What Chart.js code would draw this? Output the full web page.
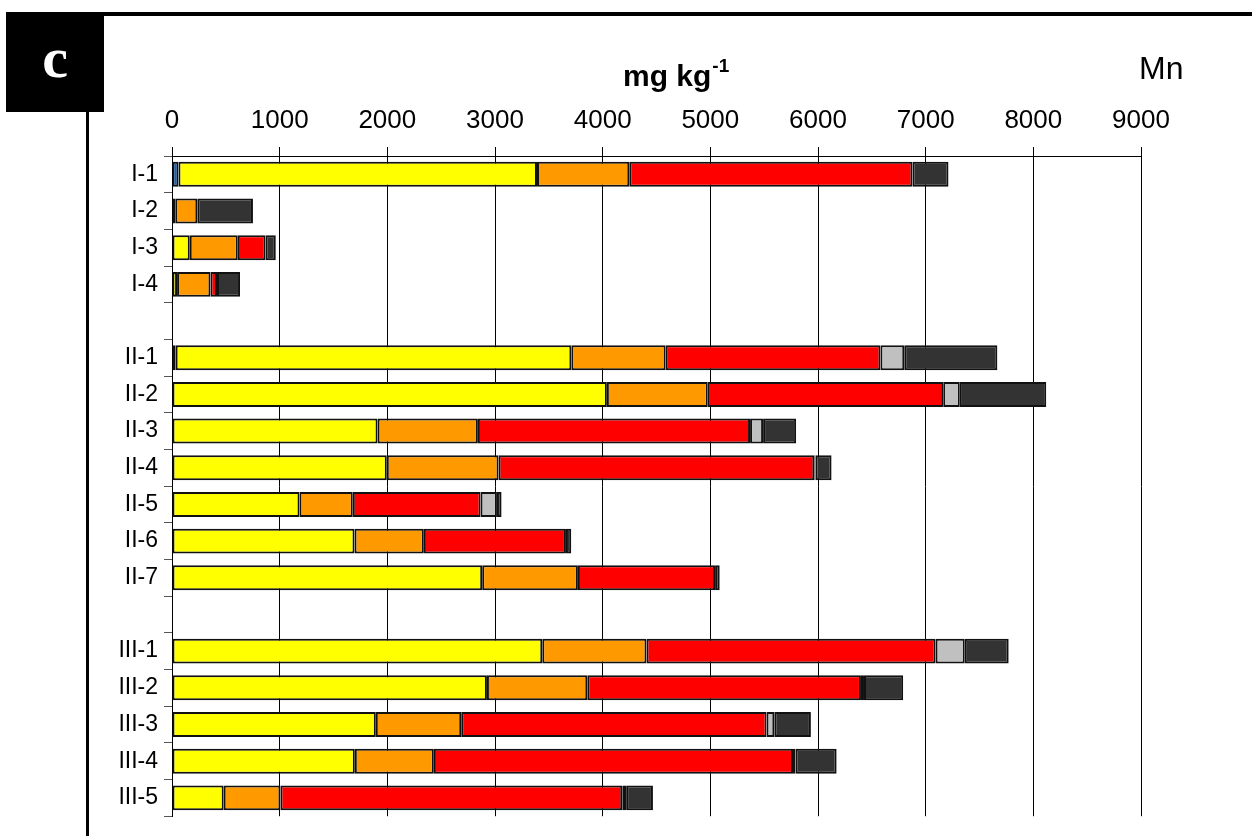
<!DOCTYPE html>
<html>
<head>
<meta charset="utf-8">
<script src="https://cdn.jsdelivr.net/npm/chart.js@4"></script>
<style>
  body { margin: 0; background: #fff; }
  #wrap { position: relative; width: 1252px; height: 836px; overflow: hidden; }
  #chart { position: absolute; left: 0; top: 0; }
  .frame { position: absolute; background: #000; }
  #panel { left: 6px; top: 12px; width: 98px; height: 100px; color: #fff;
           font: bold 58px "Liberation Serif", "Times New Roman", "DejaVu Serif", serif; text-align: center; line-height: 92px; }
  #unit { position: absolute; left: 623px; top: 54px; font: bold 30px "Liberation Sans", Arial, sans-serif; line-height: 30px; }
  #unit sup { font-size: 19px; font-weight: bold; position: relative; top: -3px; margin-left: 1px; }
  #elem { position: absolute; left: 1139px; top: 52px; font: 32px "Liberation Sans", Arial, sans-serif; line-height: 32px; }
</style>
</head>
<body>
<div id="wrap">
  <canvas id="chart" width="1252" height="836"></canvas>
  <div class="frame" style="left:6px; top:12px; width:1246px; height:4px;"></div>
  <div class="frame" id="panel">c</div>
  <div class="frame" style="left:86px; top:112px; width:3px; height:724px;"></div>
  <div id="unit">mg kg<sup>-1</sup></div>
  <div id="elem">Mn</div>
</div>
<script>
// sample labels, blank entries are the gaps between groups
const categories = ['I-1', 'I-2', 'I-3', 'I-4', '',
    'II-1', 'II-2', 'II-3', 'II-4', 'II-5', 'II-6', 'II-7', '',
    'III-1', 'III-2', 'III-3', 'III-4', 'III-5'];

// fractions, mg/kg
const fraction1 = [60, null, null, null, null, 34, null, null, null, null, null, null, null, null, null, null, null, null];
const fraction2 = [3330, 30, 165, 47, null, 3675, 4039, 1909, 1995, 1184, 1695, 2881, null, 3439, 2925, 1893, 1698, 480];
const fraction3 = [857, 205, 446, 310, null, 876, 937, 932, 1038, 495, 644, 889, null, 968, 932, 793, 734, 527];
const fraction4 = [2630, null, 257, 61, null, 1995, 2187, 2528, 2933, 1187, 1320, 1274, null, 2685, 2542, 2836, 3336, 3175];
const fraction5 = [null, null, null, null, null, 221, 154, 121, 10, 152, null, null, null, 271, 28, 72, 23, 36];
const fraction6 = [335, 517, 96, 214, null, 865, 803, 307, 150, 43, 49, 43, null, 408, 364, 340, 382, 249];

const xTicks = [0, 1000, 2000, 3000, 4000, 5000, 6000, 7000, 8000, 9000];

const colors = ['#0a64c8', '#ffff00', '#ff9900', '#ff0000', '#c0c0c0', '#333333'];
const series = [fraction1, fraction2, fraction3, fraction4, fraction5, fraction6];

const datasets = series.map((d, i) => ({
    label: 'F' + (i + 1),
    data: d,
    backgroundColor: colors[i],
    borderColor: '#111',
    borderWidth: 2,
    borderSkipped: false,
    barPercentage: 0.68,
    categoryPercentage: 1
}));

new Chart(document.getElementById('chart').getContext('2d'), {
    type: 'bar',
    data: { labels: categories, datasets: datasets },
    options: {
        indexAxis: 'y',
        responsive: false,
        animation: false,
        layout: { padding: { left: 90, right: 111, top: 100, bottom: 15 } },
        plugins: { legend: { display: false }, tooltip: { enabled: false } },
        scales: {
            x: {
                position: 'top',
                stacked: true,
                min: 0,
                max: 9000,
                afterBuildTicks: (scale) => { scale.ticks = xTicks.map(v => ({ value: v })); },
                afterFit: (scale) => { scale.height = 56; },
                ticks: {
                    color: '#000',
                    padding: 11,
                    maxRotation: 0,
                    callback: (v) => String(v),
                    font: { family: '"Liberation Sans", Arial, sans-serif', size: 26 }
                },
                grid: { color: '#000', lineWidth: 1, drawTicks: true, tickLength: 9 },
                border: { color: '#000', width: 1 }
            },
            y: {
                stacked: true,
                afterFit: (scale) => { scale.width = 82; },
                ticks: {
                    color: '#000',
                    padding: 6,
                    font: { family: '"Liberation Sans", Arial, sans-serif', size: 23 }
                },
                grid: { offset: true, drawOnChartArea: false, drawTicks: true, tickLength: 8, color: '#555' },
                border: { color: '#000', width: 1 }
            }
        }
    }
});
</script>
</body>
</html>
